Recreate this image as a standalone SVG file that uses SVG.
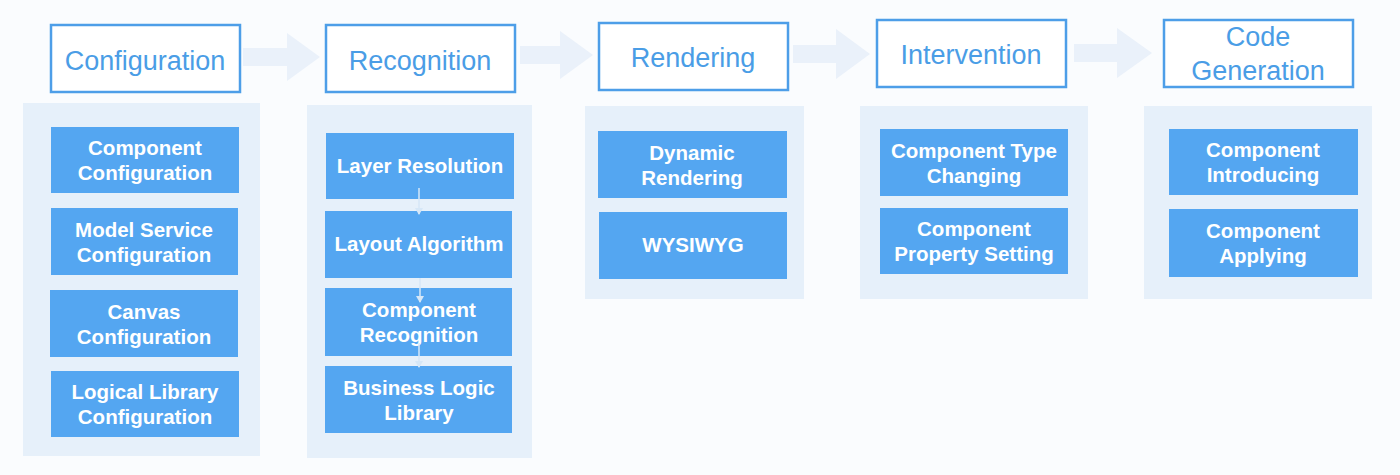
<svg xmlns="http://www.w3.org/2000/svg" width="1400" height="475" viewBox="0 0 1400 475">
<defs>
<style>
.hdr{fill:#ffffff;stroke:#4d9ee8;stroke-width:2.5}
.ht{font-family:"Liberation Sans",Arial,sans-serif;font-size:27px;fill:#4a9de6;text-anchor:middle}
.pnl{fill:#e6f0fa}
.box{fill:#54a6f1}
.bt{font-family:"Liberation Sans",Arial,sans-serif;font-size:20.5px;font-weight:bold;fill:#ffffff;text-anchor:middle}
.barrow{fill:#eaf1fa}
.sline{stroke:#d6e7f7;stroke-width:1.5;fill:none}
</style>
<marker id="ah" markerWidth="8" markerHeight="8" refX="6" refY="4" orient="auto" markerUnits="userSpaceOnUse">
<path d="M0,0 L7,4 L0,8 Z" fill="#d6e7f7"/>
</marker>
</defs>
<rect x="0" y="0" width="1400" height="475" fill="#fafcfe"/>

<g id="connectors">
<path class="barrow" d="M243,48 L287,48 L287,33 L320,57 L287,81 L287,66 L243,66 Z"/>
<path class="barrow" d="M520,46 L560,46 L560,31 L593,55 L560,79 L560,64 L520,64 Z"/>
<path class="barrow" d="M793,45 L836,45 L836,29 L870,54 L836,79 L836,63 L793,63 Z"/>
<path class="barrow" d="M1074,44 L1117,44 L1117,28 L1152,53 L1117,78 L1117,62 L1074,62 Z"/>
</g>

<g id="panel-configuration">
<rect class="pnl" x="23" y="103" width="237" height="353"/>
</g>
<g id="panel-recognition">
<rect class="pnl" x="307" y="105" width="225" height="353"/>
</g>
<g id="panel-rendering">
<rect class="pnl" x="585" y="106" width="219" height="193"/>
</g>
<g id="panel-intervention">
<rect class="pnl" x="860" y="106" width="228" height="193"/>
</g>
<g id="panel-codegen">
<rect class="pnl" x="1144" y="106" width="228" height="193"/>
</g>

<g id="hdr-configuration">
<rect class="hdr" x="51" y="25" width="189" height="67"/>
<text class="ht" x="145" y="70">Configuration</text>
</g>
<g id="hdr-recognition">
<rect class="hdr" x="326" y="25" width="189" height="67"/>
<text class="ht" x="420" y="70">Recognition</text>
</g>
<g id="hdr-rendering">
<rect class="hdr" x="599" y="23" width="189" height="67"/>
<text class="ht" x="693" y="67">Rendering</text>
</g>
<g id="hdr-intervention">
<rect class="hdr" x="877" y="20" width="189" height="67"/>
<text class="ht" x="971" y="64">Intervention</text>
</g>
<g id="hdr-codegen">
<rect class="hdr" x="1164" y="20" width="189" height="67"/>
<text class="ht" x="1258" y="46">Code</text>
<text class="ht" x="1258" y="80">Generation</text>
</g>

<g id="n-component-configuration">
<rect class="box" x="51" y="127" width="188" height="66"/>
<text class="bt" x="145" y="155">Component</text>
<text class="bt" x="145" y="180">Configuration</text>
</g>
<g id="n-model-service">
<rect class="box" x="51" y="208" width="187" height="67"/>
<text class="bt" x="144" y="237">Model Service</text>
<text class="bt" x="144" y="262">Configuration</text>
</g>
<g id="n-canvas">
<rect class="box" x="50" y="290" width="188" height="67"/>
<text class="bt" x="144" y="319">Canvas</text>
<text class="bt" x="144" y="344">Configuration</text>
</g>
<g id="n-logical-library">
<rect class="box" x="51" y="371" width="188" height="66"/>
<text class="bt" x="145" y="399">Logical Library</text>
<text class="bt" x="145" y="424">Configuration</text>
</g>

<g id="n-layer-resolution">
<rect class="box" x="326" y="133" width="188" height="66"/>
<text class="bt" x="420" y="173">Layer Resolution</text>
</g>
<g id="n-layout-algorithm">
<rect class="box" x="325" y="211" width="187" height="67"/>
<text class="bt" x="419" y="251">Layout Algorithm</text>
</g>
<g id="n-component-recognition">
<rect class="box" x="325" y="288" width="187" height="68"/>
<text class="bt" x="419" y="317">Component</text>
<text class="bt" x="419" y="342">Recognition</text>
</g>
<g id="n-business-logic">
<rect class="box" x="325" y="366" width="187" height="67"/>
<text class="bt" x="419" y="395">Business Logic</text>
<text class="bt" x="419" y="420">Library</text>
</g>

<g id="n-dynamic-rendering">
<rect class="box" x="598" y="131" width="189" height="67"/>
<text class="bt" x="692" y="160">Dynamic</text>
<text class="bt" x="692" y="185">Rendering</text>
</g>
<g id="n-wysiwyg">
<rect class="box" x="599" y="212" width="188" height="67"/>
<text class="bt" x="693" y="252">WYSIWYG</text>
</g>

<g id="n-type-changing">
<rect class="box" x="880" y="129" width="188" height="67"/>
<text class="bt" x="974" y="158">Component Type</text>
<text class="bt" x="974" y="183">Changing</text>
</g>
<g id="n-property-setting">
<rect class="box" x="880" y="208" width="188" height="66"/>
<text class="bt" x="974" y="236">Component</text>
<text class="bt" x="974" y="261">Property Setting</text>
</g>

<g id="n-introducing">
<rect class="box" x="1169" y="129" width="189" height="66"/>
<text class="bt" x="1263" y="157">Component</text>
<text class="bt" x="1263" y="182">Introducing</text>
</g>
<g id="n-applying">
<rect class="box" x="1169" y="209" width="189" height="68"/>
<text class="bt" x="1263" y="238">Component</text>
<text class="bt" x="1263" y="263">Applying</text>
</g>

<g id="connectors-inner">
<line class="sline" x1="419" y1="188" x2="419" y2="214" marker-end="url(#ah)"/>
<line class="sline" x1="420" y1="278" x2="420" y2="302" marker-end="url(#ah)"/>
<line class="sline" x1="419" y1="343" x2="419" y2="367" marker-end="url(#ah)"/>
</g>
</svg>
